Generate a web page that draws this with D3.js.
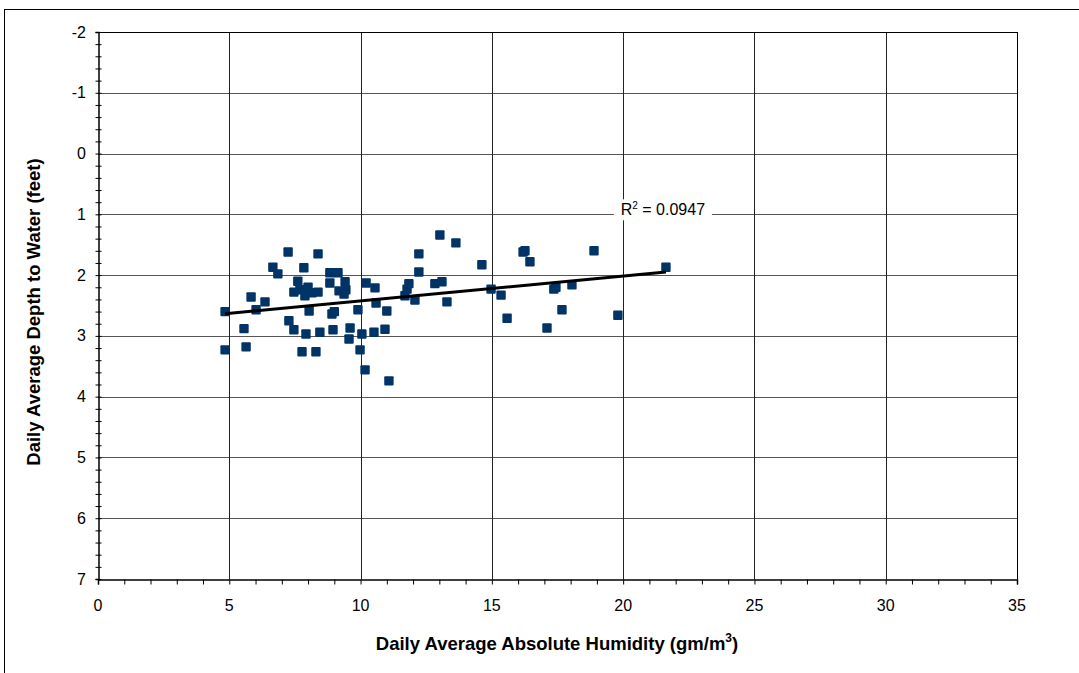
<!DOCTYPE html>
<html>
<head>
<meta charset="utf-8">
<script src="https://cdn.jsdelivr.net/npm/d3@7"></script>
<style>
  html, body { margin: 0; padding: 0; background: #fff; }
  svg { display: block; font-family: "Liberation Sans", Arial, sans-serif; }
</style>
</head>
<body>
<svg id="chart" width="1079" height="673"></svg>
<script>
// Absolute humidity (gm/m3)
const humidity = [4.84, 4.84, 5.56, 5.64, 5.83, 6.02, 6.36, 6.66, 6.85, 7.24,
  7.27, 7.46, 7.46, 7.61, 7.69, 7.77, 7.84, 7.88, 7.92, 8.0,
  8.04, 8.15, 8.30, 8.38, 8.38, 8.45, 8.83, 8.83, 8.91, 8.95,
  9.0, 9.14, 9.18, 9.37, 9.41, 9.44, 9.56, 9.60, 9.90, 9.98,
  10.05, 10.17, 10.21, 10.51, 10.55, 10.59, 10.93, 11.0, 11.08, 11.69,
  11.77, 11.84, 12.07, 12.22, 12.22, 12.83, 13.02, 13.1, 13.29, 13.63,
  14.62, 14.97, 15.35, 15.58, 16.19, 16.26, 16.45, 17.10, 17.36, 17.44,
  17.67, 18.05, 18.89, 19.80, 21.63];
// Depth to water (feet)
const depth = [2.60, 3.23, 2.88, 3.18, 2.36, 2.57, 2.44, 1.87, 1.98, 1.62,
  2.75, 2.28, 2.90, 2.10, 2.24, 3.26, 1.88, 2.34, 2.97, 2.20,
  2.59, 2.29, 3.26, 1.65, 2.28, 2.94, 1.96, 2.13, 2.64, 2.90,
  2.60, 1.96, 2.26, 2.31, 2.11, 2.24, 3.05, 2.87, 2.57, 3.23,
  2.97, 3.56, 2.13, 2.94, 2.21, 2.46, 2.89, 2.59, 3.74, 2.34,
  2.23, 2.14, 2.41, 1.65, 1.95, 2.14, 1.34, 2.11, 2.44, 1.47,
  1.83, 2.23, 2.33, 2.71, 1.62, 1.60, 1.78, 2.87, 2.23, 2.20,
  2.57, 2.16, 1.60, 2.66, 1.87];
const xTicks = [0, 5, 10, 15, 20, 25, 30, 35];
const yTicks = [-2, -1, 0, 1, 2, 3, 4, 5, 6, 7];
const rSquaredLabel = "0.0947";
const xTitle = "Daily Average Absolute Humidity (gm/m";
const yTitle = "Daily Average Depth to Water (feet)";

const svg = d3.select("#chart");
const L = 98, T = 32, R = 1017, B = 579;
const x = d3.scaleLinear().domain([0, 35]).range([L, R]);
const y = d3.scaleLinear().domain([-2, 7]).range([T, B]);

// outer frame
svg.append("rect").attr("x", 4.5).attr("y", 9.5).attr("width", 1080).attr("height", 700)
  .attr("fill", "none").attr("stroke", "#000").attr("stroke-width", 1);

// gridlines
svg.append("g").selectAll("line").data(yTicks.filter(d => d > -2 && d < 7)).join("line")
  .attr("x1", L).attr("x2", R).attr("y1", d => Math.round(y(d)) + 0.5).attr("y2", d => Math.round(y(d)) + 0.5)
  .attr("stroke", "#555").attr("stroke-width", 1);
svg.append("g").selectAll("line").data(xTicks.filter(d => d > 0 && d < 35)).join("line")
  .attr("y1", T).attr("y2", B).attr("x1", d => Math.round(x(d)) + 0.5).attr("x2", d => Math.round(x(d)) + 0.5)
  .attr("stroke", "#222").attr("stroke-width", 1);

// plot border top/right
svg.append("line").attr("x1", L).attr("x2", R + 0.5).attr("y1", T + 0.5).attr("y2", T + 0.5).attr("stroke", "#000");
svg.append("line").attr("x1", R + 0.5).attr("x2", R + 0.5).attr("y1", T).attr("y2", B).attr("stroke", "#000");

// x axis
const xAxis = d3.axisBottom(x).tickValues(d3.range(0, 36, 1)).tickSize(5).tickFormat(() => "");
const gx = svg.append("g").attr("transform", `translate(0,${B + 0.5})`).call(xAxis);
gx.select(".domain").attr("stroke", "#000").attr("stroke-width", 1.5);
gx.selectAll(".tick line").attr("stroke", "#000");
svg.append("g").selectAll("text").data(xTicks).join("text")
  .attr("x", d => x(d)).attr("y", B + 32).attr("text-anchor", "middle")
  .attr("font-size", 16).attr("fill", "#000").text(d => d);

// y axis
const yAxis = d3.axisLeft(y).tickValues(d3.range(-2, 7.001, 0.2)).tickSize(3).tickFormat(() => "");
const gy = svg.append("g").attr("transform", `translate(${L + 0.5},0)`).call(yAxis);
gy.select(".domain").attr("stroke", "#000").attr("stroke-width", 1.5);
gy.selectAll(".tick line").attr("stroke", "#000").attr("x2", -3).attr("x1", 3);
svg.append("g").selectAll("text").data(yTicks).join("text")
  .attr("x", 86).attr("y", d => y(d) + 5.5).attr("text-anchor", "end")
  .attr("font-size", 16).attr("fill", "#000").text(d => d);

// trendline (least squares)
const n = humidity.length;
const mx = d3.mean(humidity), my = d3.mean(depth);
let sxy = 0, sxx = 0;
for (let i = 0; i < n; i++) { sxy += (humidity[i] - mx) * (depth[i] - my); sxx += (humidity[i] - mx) ** 2; }
const slope = sxy / sxx, intercept = my - slope * mx;
const x0 = d3.min(humidity), x1 = d3.max(humidity);

// points
svg.append("g").selectAll("rect").data(humidity).join("rect")
  .attr("x", (d) => x(d) - 4.7).attr("y", (d, i) => y(depth[i]) - 4.7)
  .attr("width", 9.4).attr("height", 9.4).attr("rx", 1)
  .attr("fill", "#003366");

svg.append("line")
  .attr("x1", x(x0)).attr("y1", y(intercept + slope * x0))
  .attr("x2", x(x1)).attr("y2", y(intercept + slope * x1))
  .attr("stroke", "#000").attr("stroke-width", 3);

// R² label with white background
const lab = svg.append("g").attr("transform", `translate(${x(19.8) + 45},${y(1) + 1})`);
lab.append("rect").attr("x", -49).attr("y", -16).attr("width", 98).attr("height", 21).attr("fill", "#fff");
const t = lab.append("text").attr("text-anchor", "middle").attr("font-size", 16).attr("fill", "#000");
t.append("tspan").text("R");
t.append("tspan").attr("font-size", 10).attr("dy", -6).text("2");
t.append("tspan").attr("dy", 6).text(" = " + rSquaredLabel);

// axis titles
const xt = svg.append("text").attr("x", 557).attr("y", 650).attr("text-anchor", "middle")
  .attr("font-size", 18.5).attr("font-weight", "bold").attr("fill", "#000");
xt.append("tspan").text(xTitle);
xt.append("tspan").attr("font-size", 12).attr("dy", -8).text("3");
xt.append("tspan").attr("dy", 8).text(")");

svg.append("text").attr("transform", "translate(40,312) rotate(-90)").attr("text-anchor", "middle")
  .attr("font-size", 18.5).attr("font-weight", "bold").attr("fill", "#000").text(yTitle);
</script>
</body>
</html>
